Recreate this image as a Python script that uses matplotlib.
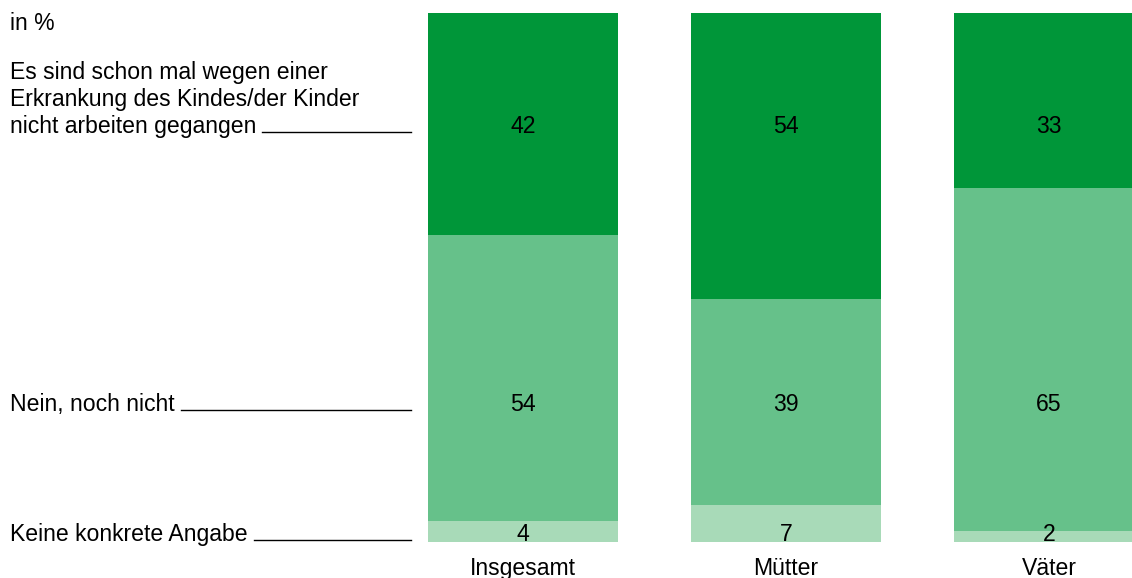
import matplotlib
matplotlib.use("Agg")
import matplotlib.pyplot as plt

# Daten
groups = ["Insgesamt", "Mütter", "Väter"]
answers = [
    ["Es sind schon mal wegen einer", "Erkrankung des Kindes/der Kinder", "nicht arbeiten gegangen"],
    ["Nein, noch nicht"],
    ["Keine konkrete Angabe"],
]
ja = [42, 54, 33]
nein = [54, 39, 65]
keine = [4, 7, 2]
colors = ["#009639", "#66c18a", "#a8dab8"]

W, H = 1132, 578
plt.rcParams["font.family"] = ["Liberation Sans", "DejaVu Sans"]
FS = 16.6

fig = plt.figure(figsize=(W / 100, H / 100), dpi=100)

# Achse: Balken von y=13 bis 542 px, erster Balken beginnt bei x=428 px, Abstand 263 px
step, bw = 263, 190
x0 = 428
ax = fig.add_axes([x0 / W, (H - 542) / H, (W - x0) / W, 529 / H])
left = -bw / step / 2
ax.set_xlim(left, left + (W - x0) / step)
ax.set_ylim(100, 0)
ax.axis("off")

xs = range(len(groups))
bottom = [0] * len(groups)
for vals, c in zip([ja, nein, keine], colors):
    ax.bar(xs, vals, bottom=bottom, width=bw / step, color=c, align="center")
    bottom = [b + v for b, v in zip(bottom, vals)]


def fy(px):
    return 1 - px / H


# Zeilen (Grundlinien in px)
rows = [133, 411, 541]

fig.text(10 / W, fy(30), "in %", fontsize=FS, va="baseline", ha="left")

label_ends = []
for lines, base in zip(answers, rows):
    n = len(lines)
    t = None
    for i, line in enumerate(lines):
        t = fig.text(10 / W, fy(base - (n - 1 - i) * 27), line, fontsize=FS,
                     va="baseline", ha="left")
    label_ends.append(t)

fig.canvas.draw()
r = fig.canvas.get_renderer()
for t, base in zip(label_ends, rows):
    bb = t.get_window_extent(renderer=r)
    fig.add_artist(plt.Line2D([(bb.x1 + 6) / W, 411 / W], [fy(base - 1), fy(base - 1)],
                              color="black", lw=1, transform=fig.transFigure))

for i, g in enumerate(groups):
    xc = ax.transData.transform((i, 0))[0]
    for vals, base in zip([ja, nein, keine], rows):
        fig.text(xc / W, fy(base), str(vals[i]), fontsize=FS, ha="center", va="baseline")
    fig.text(xc / W, fy(575), g, fontsize=FS, ha="center", va="baseline")

fig.savefig("out.png", dpi=100)
